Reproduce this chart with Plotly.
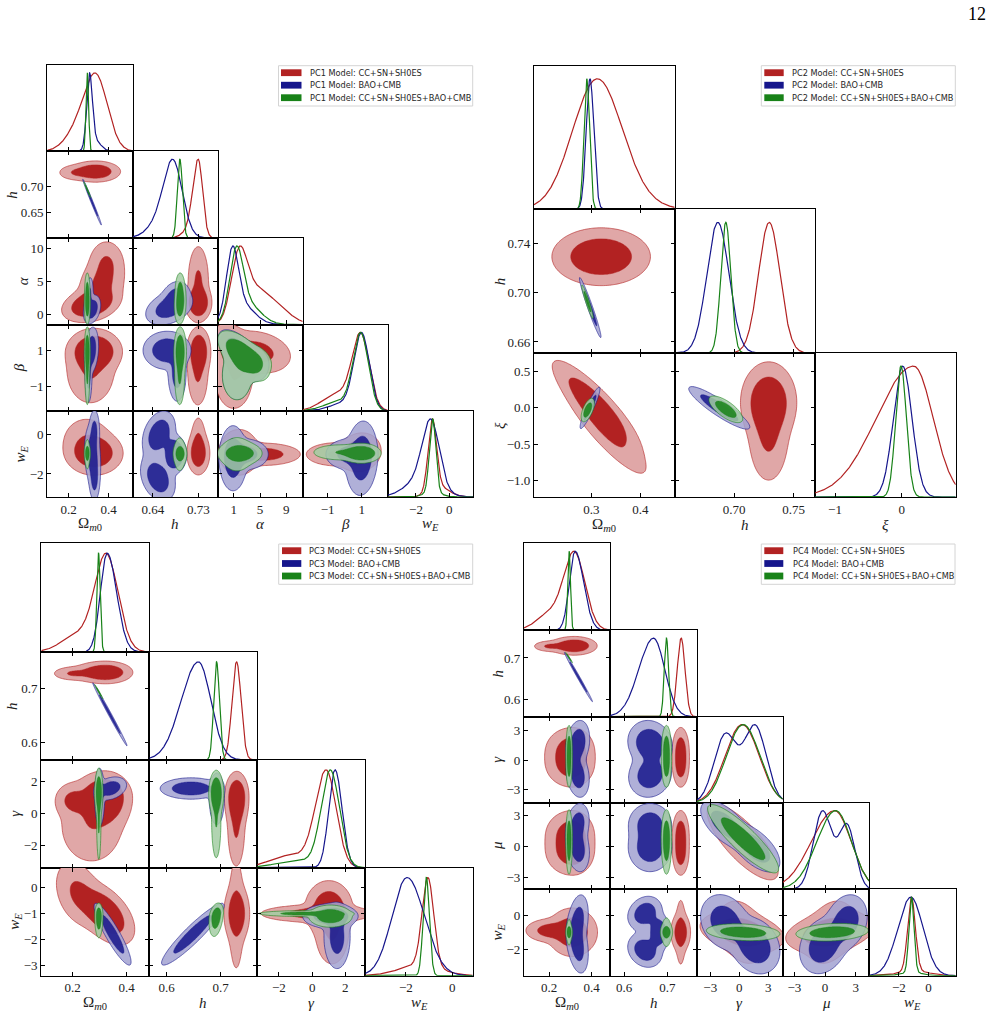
import numpy as np
import plotly.graph_objects as go

W, H = 995, 1017
SERIF = "Liberation Serif, DejaVu Serif, serif"
SANS = "DejaVu Sans, Verdana, sans-serif"

COLORS = {"cc": (178, 34, 34), "bao": (22, 22, 140), "all": (24, 130, 24)}
FILL_ALPHA = {"cc": 1.0, "bao": 0.85, "all": 0.85}
DATASETS = ["cc", "bao", "all"]
SERIES_NAMES = {"cc": "CC+SN+SH0ES", "bao": "BAO+CMB", "all": "CC+SN+SH0ES+BAO+CMB"}
LABELS = {"Om": "Ω<sub><i>m</i>0</sub>", "h": "<i>h</i>", "al": "<i>α</i>", "be": "<i>β</i>",
          "wE": "<i>w</i><sub><i>E</i></sub>", "xi": "<i>ξ</i>", "ga": "<i>γ</i>", "mu": "<i>μ</i>"}

# 1D components: (weight, mode, sigma) or (weight, mode, sigma_left, sigma_right)
# 2D components: (weight, mx, my, sx, sy, rho) or (weight, mx, my, sx_l, sx_r, sy_l, sy_h, rho)

# ======================= PC1 =======================
PC1_PARAMS = ["Om", "h", "al", "be", "wE"]
PC1_XRANGE = {"Om": [0.094, 0.521], "h": [0.600, 0.768], "al": [-1.47, 11.5], "be": [-2.47, 2.54], "wE": [-3.69, 1.44]}
PC1_YRANGE = {"h": [0.601, 0.768], "al": [-1.47, 11.5], "be": [-2.40, 2.45], "wE": [-3.17, 1.2]}
PC1_XTICKS = {"Om": [0.2, 0.4], "h": [0.64, 0.73], "al": [1, 5, 9], "be": [-1, 1], "wE": [-2, 0]}
PC1_XTICKTEXT = {"Om": ["0.2", "0.4"], "h": ["0.64", "0.73"], "al": ["1", "5", "9"], "be": ["−1", "1"], "wE": ["−2", "0"]}
PC1_YTICKS = {"h": [0.65, 0.70], "al": [0, 5, 10], "be": [-1, 1], "wE": [-2, 0]}
PC1_YTICKTEXT = {"h": ["0.65", "0.70"], "al": ["0", "5", "10"], "be": ["−1", "1"], "wE": ["−2", "0"]}

PC1_CC_1D = {
    "Om": [(0.8, 0.338, 0.058), (0.2, 0.24, 0.06)],
    "h": [(0.85, 0.730, 0.0105, 0.0085), (0.15, 0.715, 0.015)],
    "al": [(0.45, 1.8, 1.2), (0.35, 4.2, 2.0), (0.2, 7.5, 2.2)],
    "be": [(0.7, 0.95, 0.5), (0.3, -0.4, 0.9)],
    "wE": [(0.75, -1.02, 0.25), (0.25, -0.6, 0.6)],
}
PC1_BAO_1D = {
    "Om": [(0.75, 0.305, 0.014), (0.25, 0.33, 0.03)],
    "h": [(0.7, 0.681, 0.018), (0.3, 0.66, 0.025)],
    "al": [(0.6, 0.8, 0.9), (0.4, 2.2, 1.9)],
    "be": [(0.85, 1.0, 0.45), (0.15, -0.1, 0.8)],
    "wE": [(0.65, -1.1, 0.5), (0.35, -1.65, 0.95)],
}
PC1_ALL_1D = {
    "Om": [(1.0, 0.294, 0.0065)],
    "h": [(1.0, 0.6935, 0.005)],
    "al": [(0.6, 1.4, 1.0), (0.4, 3.0, 2.0)],
    "be": [(0.8, 0.95, 0.45), (0.2, -0.3, 0.9)],
    "wE": [(0.85, -1.0, 0.19), (0.15, -1.0, 0.5)],
}
PC1_CC_2D = {
    ("Om", "h"): [(0.85, 0.335, 0.729, 0.052, 0.0085, 0.0), (0.15, 0.23, 0.727, 0.04, 0.007, 0.0)],
    ("Om", "al"): [(0.5, 0.31, 1.5, 0.06, 1.1, 0.3), (0.35, 0.365, 4.5, 0.055, 2.0, 0.2), (0.15, 0.39, 8.0, 0.042, 1.6, 0.0)],
    ("h", "al"): [(0.6, 0.730, 1.8, 0.0105, 1.1, 0.0), (0.4, 0.730, 5.0, 0.0100, 2.6, 0.0)],
    ("Om", "be"): [(0.65, 0.33, 0.95, 0.055, 0.5, 0.0), (0.35, 0.31, -0.2, 0.06, 0.9, 0.0)],
    ("h", "be"): [(0.65, 0.731, 0.95, 0.0095, 0.55, 0.0), (0.35, 0.729, -0.3, 0.01, 0.9, 0.0)],
    ("al", "be"): [(0.45, 1.0, 1.0, 1.2, 0.6, -0.4), (0.35, 4.5, 0.9, 2.4, 0.55, -0.2), (0.2, 1.0, -0.6, 1.5, 0.9, 0.0)],
    ("Om", "wE"): [(0.75, 0.33, -0.95, 0.058, 0.45, 0.0), (0.25, 0.29, -0.3, 0.06, 0.6, 0.0)],
    ("h", "wE"): [(0.75, 0.730, -0.95, 0.0095, 0.45, 0.0), (0.25, 0.730, -0.3, 0.007, 0.6, 0.0)],
    ("al", "wE"): [(0.55, 1.8, -0.9, 1.3, 0.5, 0.0), (0.45, 5.5, -1.0, 2.5, 0.25, 0.0)],
    ("be", "wE"): [(0.7, 0.9, -0.9, 0.5, 0.4, 0.1), (0.3, -0.5, -1.0, 0.9, 0.3, 0.0)],
}
PC1_BAO_2D = {
    ("Om", "h"): [(1.0, 0.318, 0.67, 0.019, 0.018, -0.993)],
    ("Om", "al"): [(0.7, 0.318, 0.8, 0.018, 0.9, 0.3), (0.3, 0.302, 2.8, 0.01, 1.3, 0.3)],
    ("h", "al"): [(0.7, 0.672, 1.0, 0.02, 1.1, 0.35), (0.3, 0.685, 2.8, 0.012, 1.0, 0.2)],
    ("Om", "be"): [(0.7, 0.315, 1.0, 0.015, 0.55, 0.2), (0.3, 0.30, -0.4, 0.008, 0.7, 0.0)],
    ("h", "be"): [(0.7, 0.668, 1.0, 0.02, 0.45, 0.0), (0.3, 0.688, -0.3, 0.008, 0.7, 0.0)],
    ("al", "be"): [(0.7, 2.2, 0.75, 1.4, 0.55, -0.65), (0.1, 4.3, 0.5, 1.1, 0.4, -0.3), (0.2, 1.5, -0.4, 1.3, 0.8, 0.0)],
    ("Om", "wE"): [(0.6, 0.32, -1.1, 0.018, 0.7, -0.2), (0.2, 0.33, 0.2, 0.012, 0.5, 0.0), (0.2, 0.33, -2.3, 0.012, 0.5, 0.0)],
    ("h", "wE"): [(0.35, 0.652, 0.0, 0.015, 0.55, 0.3), (0.3, 0.683, -1.0, 0.01, 0.4, 0.0), (0.35, 0.65, -2.2, 0.016, 0.55, -0.3)],
    ("al", "wE"): [(0.65, 0.9, -1.2, 0.9, 0.7, 0.0), (0.35, 3.0, -1.0, 1.5, 0.35, 0.0)],
    ("be", "wE"): [(0.7, 1.0, -1.2, 0.4, 0.8, 0.1), (0.3, 0.2, -1.0, 0.6, 0.35, 0.0)],
}
PC1_ALL_2D = {
    ("Om", "h"): [(1.0, 0.294, 0.694, 0.007, 0.0062, -0.99)],
    ("Om", "al"): [(0.7, 0.294, 1.6, 0.0065, 1.3, 0.0), (0.3, 0.294, 3.8, 0.006, 1.2, 0.0)],
    ("h", "al"): [(0.7, 0.694, 1.6, 0.005, 1.3, 0.1), (0.3, 0.694, 3.8, 0.0045, 1.2, 0.0)],
    ("Om", "be"): [(0.7, 0.294, 0.95, 0.006, 0.55, 0.0), (0.3, 0.294, -0.5, 0.006, 0.8, 0.0)],
    ("h", "be"): [(0.7, 0.694, 0.95, 0.005, 0.55, 0.0), (0.3, 0.693, -0.5, 0.005, 0.8, 0.0)],
    ("al", "be"): [(0.7, 2.4, 0.7, 1.5, 0.55, -0.65), (0.1, 4.5, 0.5, 1.2, 0.4, -0.3), (0.2, 1.5, -0.4, 1.3, 0.8, 0.0)],
    ("Om", "wE"): [(0.7, 0.294, -0.95, 0.006, 0.2, 0.0), (0.3, 0.294, -1.0, 0.006, 0.4, 0.0)],
    ("h", "wE"): [(0.7, 0.694, -0.97, 0.0048, 0.2, 0.0), (0.3, 0.693, -1.0, 0.006, 0.45, 0.0)],
    ("al", "wE"): [(0.7, 2.0, -0.95, 1.3, 0.22, 0.0), (0.3, 1.5, -1.0, 1.2, 0.45, 0.0)],
    ("be", "wE"): [(0.7, 1.0, -0.95, 0.45, 0.2, 0.0), (0.3, -0.3, -0.9, 0.8, 0.2, 0.0)],
}

# ======================= PC2 =======================
PC2_PARAMS = ["Om", "h", "xi"]
PC2_XRANGE = {"Om": [0.183, 0.47], "h": [0.65, 0.768], "xi": [-1.3, 0.81]}
PC2_YRANGE = {"h": [0.651, 0.768], "xi": [-1.23, 0.757]}
PC2_XTICKS = {"Om": [0.3, 0.4], "h": [0.70, 0.75], "xi": [-1, 0]}
PC2_XTICKTEXT = {"Om": ["0.3", "0.4"], "h": ["0.70", "0.75"], "xi": ["−1", "0"]}
PC2_YTICKS = {"h": [0.66, 0.70, 0.74], "xi": [-1.0, -0.5, 0.0, 0.5]}
PC2_YTICKTEXT = {"h": ["0.66", "0.70", "0.74"], "xi": ["−1.0", "−0.5", "0.0", "0.5"]}

PC2_CC_1D = {"Om": [(0.8, 0.308, 0.049), (0.2, 0.34, 0.055)], "h": [(1.0, 0.7295, 0.009)], "xi": [(1.0, 0.18, 0.56, 0.29)]}
PC2_BAO_1D = {"Om": [(1.0, 0.2973, 0.0078)], "h": [(1.0, 0.6863, 0.0093)], "xi": [(1.0, 0.015, 0.14)]}
PC2_ALL_1D = {"Om": [(1.0, 0.2906, 0.0058)], "h": [(1.0, 0.693, 0.0042)], "xi": [(1.0, -0.01, 0.08)]}
PC2_CC_2D = {
    ("Om", "h"): [(1.0, 0.32, 0.7294, 0.041, 0.0096, 0.0)],
    ("Om", "xi"): [(0.65, 0.31, 0.03, 0.037, 0.26, -0.88), (0.35, 0.33, -0.3, 0.04, 0.3, -0.88)],
    ("h", "xi"): [(0.7, 0.729, 0.08, 0.0098, 0.23, 0.0), (0.3, 0.729, -0.4, 0.008, 0.3, 0.0)],
}
PC2_BAO_2D = {
    ("Om", "h"): [(1.0, 0.2977, 0.688, 0.009, 0.010, -0.97)],
    ("Om", "xi"): [(1.0, 0.2973, 0.0, 0.0083, 0.117, 0.92)],
    ("h", "xi"): [(1.0, 0.6875, 0.0, 0.0105, 0.12, -0.9)],
}
PC2_ALL_2D = {
    ("Om", "h"): [(1.0, 0.292, 0.6928, 0.0048, 0.0056, -0.95)],
    ("Om", "xi"): [(1.0, 0.2926, -0.03, 0.0055, 0.066, 0.6)],
    ("h", "xi"): [(1.0, 0.693, -0.02, 0.0058, 0.075, -0.72)],
}

# ======================= PC3 =======================
PC3_PARAMS = ["Om", "h", "ga", "wE"]
PC3_XRANGE = {"Om": [0.084, 0.484], "h": [0.568, 0.768], "ga": [-3.3, 3.2], "wE": [-3.75, 0.88]}
PC3_YRANGE = {"h": [0.567, 0.768], "ga": [-3.4, 3.33], "wE": [-3.41, 0.78]}
PC3_XTICKS = {"Om": [0.2, 0.4], "h": [0.6, 0.7], "ga": [-2, 0, 2], "wE": [-2, 0]}
PC3_XTICKTEXT = {"Om": ["0.2", "0.4"], "h": ["0.6", "0.7"], "ga": ["−2", "0", "2"], "wE": ["−2", "0"]}
PC3_YTICKS = {"h": [0.6, 0.7], "ga": [-2, 0, 2], "wE": [-3, -2, -1, 0]}
PC3_YTICKTEXT = {"h": ["0.6", "0.7"], "ga": ["−2", "0", "2"], "wE": ["−3", "−2", "−1", "0"]}

PC3_CC_1D = {"Om": [(0.8, 0.325, 0.042, 0.044), (0.2, 0.22, 0.06)], "h": [(1.0, 0.7296, 0.0084)],
             "ga": [(0.8, 0.85, 0.65, 0.6), (0.2, -1.3, 1.2)], "wE": [(0.7, -1.05, 0.25), (0.3, -1.4, 0.9)]}
PC3_BAO_1D = {"Om": [(1.0, 0.328, 0.025, 0.035)], "h": [(1.0, 0.659, 0.032, 0.023)],
              "ga": [(1.0, 1.38, 0.38, 0.42)], "wE": [(1.0, -1.95, 0.65, 0.75)]}
PC3_ALL_1D = {"Om": [(1.0, 0.296, 0.0063)], "h": [(1.0, 0.6926, 0.0053)],
              "ga": [(0.85, 1.1, 0.55, 0.55), (0.15, -0.8, 1.3)], "wE": [(1.0, -1.12, 0.135)]}
PC3_CC_2D = {
    ("Om", "h"): [(0.85, 0.322, 0.73, 0.05, 0.042, 0.0088, 0.0088, 0.0), (0.15, 0.2, 0.728, 0.035, 0.006, 0.0)],
    ("Om", "ga"): [(0.6, 0.32, 1.0, 0.045, 0.04, 0.8, 0.65, 0.0), (0.3, 0.27, -0.8, 0.06, 1.2, 0.0), (0.1, 0.2, 0.8, 0.03, 0.5, 0.0)],
    ("h", "ga"): [(0.7, 0.73, 1.0, 0.0092, 0.0092, 0.8, 0.65, 0.0), (0.3, 0.729, -1.0, 0.008, 1.2, 0.0)],
    ("Om", "wE"): [(0.7, 0.32, -1.0, 0.045, 0.5, -0.5), (0.3, 0.22, -0.2, 0.04, 0.6, -0.3)],
    ("h", "wE"): [(0.7, 0.73, -1.0, 0.0093, 0.45, 0.0), (0.3, 0.729, -1.0, 0.007, 1.1, 0.0)],
    ("ga", "wE"): [(0.5, 1.0, -0.8, 0.6, 0.45, 0.0), (0.3, 0.3, -1.0, 1.5, 0.15, 0.0), (0.2, 1.2, -1.8, 0.5, 0.6, 0.0)],
}
PC3_BAO_2D = {
    ("Om", "h"): [(1.0, 0.338, 0.652, 0.026, 0.024, -0.995)],
    ("Om", "ga"): [(0.6, 0.34, 1.55, 0.025, 0.3, 0.3), (0.4, 0.30, 1.0, 0.008, 0.8, 0.0)],
    ("h", "ga"): [(0.65, 0.645, 1.55, 0.024, 0.28, 0.0), (0.35, 0.693, 0.9, 0.006, 0.7, 0.0)],
    ("Om", "wE"): [(1.0, 0.348, -1.8, 0.028, 0.49, -0.9)],
    ("h", "wE"): [(1.0, 0.6487, -1.8, 0.0237, 0.49, 0.93)],
    ("ga", "wE"): [(0.5, 1.5, -1.9, 0.35, 0.55, 0.0), (0.5, 1.1, -1.1, 0.7, 0.2, 0.0)],
}
PC3_ALL_2D = {
    ("Om", "h"): [(1.0, 0.297, 0.694, 0.0063, 0.0055, -0.99)],
    ("Om", "ga"): [(0.7, 0.297, 1.3, 0.0063, 0.6, 0.0), (0.3, 0.297, -0.5, 0.004, 1.2, 0.0)],
    ("h", "ga"): [(0.7, 0.692, 1.25, 0.0055, 0.55, 0.0), (0.3, 0.692, -0.5, 0.0045, 1.2, 0.0)],
    ("Om", "wE"): [(1.0, 0.297, -1.08, 0.0063, 0.0063, 0.35, 0.2, 0.0)],
    ("h", "wE"): [(1.0, 0.692, -1.08, 0.0055, 0.0055, 0.33, 0.2, 0.3)],
    ("ga", "wE"): [(0.7, 1.1, -1.1, 0.55, 0.18, 0.0), (0.3, -0.5, -1.0, 1.2, 0.05, 0.0)],
}

# ======================= PC4 =======================
PC4_PARAMS = ["Om", "h", "ga", "mu", "wE"]
PC4_XRANGE = {"Om": [0.082, 0.488], "h": [0.568, 0.768], "ga": [-4.4, 4.49], "mu": [-4.15, 4.34], "wE": [-4.0, 1.84]}
PC4_YRANGE = {"h": [0.56, 0.766], "ga": [-4.3, 4.42], "mu": [-4.19, 4.19], "wE": [-3.53, 1.5]}
PC4_XTICKS = {"Om": [0.2, 0.4], "h": [0.6, 0.7], "ga": [-3, 0, 3], "mu": [-3, 0, 3], "wE": [-2, 0]}
PC4_XTICKTEXT = {"Om": ["0.2", "0.4"], "h": ["0.6", "0.7"], "ga": ["−3", "0", "3"], "mu": ["−3", "0", "3"], "wE": ["−2", "0"]}
PC4_YTICKS = {"h": [0.6, 0.7], "ga": [-3, 0, 3], "mu": [-3, 0, 3], "wE": [-2, 0]}
PC4_YTICKTEXT = {"h": ["0.6", "0.7"], "ga": ["−3", "0", "3"], "mu": ["−3", "0", "3"], "wE": ["−2", "0"]}

PC4_CC_1D = {"Om": [(0.8, 0.319, 0.05), (0.2, 0.2, 0.06)], "h": [(1.0, 0.732, 0.009)],
             "ga": [(0.5, -0.5, 1.5), (0.5, 1.1, 1.5)], "mu": [(1.0, 0.95, 2.3, 1.6)],
             "wE": [(0.8, -1.15, 0.26), (0.2, -1.0, 1.0)]}
PC4_BAO_1D = {"Om": [(1.0, 0.3226, 0.027, 0.04)], "h": [(1.0, 0.668, 0.034, 0.026)],
              "ga": [(0.47, -1.45, 1.15), (0.53, 1.65, 1.15)], "mu": [(0.58, -0.25, 0.9), (0.42, 2.15, 0.8)],
              "wE": [(1.0, -1.19, 0.88, 0.82)]}
PC4_ALL_1D = {"Om": [(1.0, 0.2943, 0.0065)], "h": [(1.0, 0.698, 0.005)],
              "ga": [(0.5, -0.4, 1.45), (0.5, 1.2, 1.45)], "mu": [(1.0, 1.05, 1.85, 1.55)],
              "wE": [(0.85, -1.15, 0.17), (0.15, -1.1, 0.7)]}
PC4_CC_2D = {
    ("Om", "h"): [(0.85, 0.318, 0.729, 0.048, 0.045, 0.0093, 0.0093, 0.0), (0.15, 0.2, 0.728, 0.035, 0.006, 0.0)],
    ("Om", "ga"): [(0.5, 0.31, -0.5, 0.055, 0.045, 1.0, 1.0, 0.0), (0.5, 0.31, 1.1, 0.055, 0.045, 1.0, 1.0, 0.0)],
    ("h", "ga"): [(0.5, 0.731, -0.5, 0.0085, 1.0, 0.0), (0.5, 0.731, 1.1, 0.0085, 1.0, 0.0)],
    ("Om", "mu"): [(0.5, 0.31, -0.6, 0.055, 0.045, 1.0, 1.0, 0.0), (0.5, 0.31, 1.2, 0.055, 0.045, 1.0, 1.0, 0.0)],
    ("h", "mu"): [(0.5, 0.731, -0.6, 0.0085, 1.0, 0.0), (0.5, 0.731, 1.2, 0.0085, 1.0, 0.0)],
    ("ga", "mu"): [(1.0, 0.35, 0.4, 1.5, 1.5, -0.78)],
    ("Om", "wE"): [(0.75, 0.31, -1.0, 0.05, 0.6, 0.0), (0.25, 0.2, -0.9, 0.05, 0.3, 0.0)],
    ("h", "wE"): [(0.75, 0.731, -1.0, 0.009, 0.45, 0.0), (0.25, 0.731, -1.0, 0.006, 1.0, 0.0)],
    ("ga", "wE"): [(0.75, 0.3, -1.0, 1.7, 0.45, -0.3), (0.25, 0.3, -1.0, 1.3, 1.0, -0.3)],
    ("mu", "wE"): [(0.75, 0.5, -1.0, 1.7, 0.45, 0.3), (0.25, 0.5, -1.0, 1.3, 1.0, 0.3)],
}
PC4_BAO_2D = {
    ("Om", "h"): [(1.0, 0.338, 0.6545, 0.027, 0.024, -0.995)],
    ("Om", "ga"): [(0.55, 0.335, 1.7, 0.024, 1.0, 0.2), (0.45, 0.335, -1.5, 0.024, 1.0, -0.2)],
    ("h", "ga"): [(0.55, 0.66, 1.7, 0.022, 1.0, -0.1), (0.45, 0.66, -1.5, 0.022, 1.0, 0.1)],
    ("Om", "mu"): [(0.45, 0.335, 2.1, 0.024, 0.9, 0.2), (0.55, 0.335, -0.2, 0.024, 1.0, -0.2)],
    ("h", "mu"): [(0.45, 0.66, 2.1, 0.022, 0.9, 0.0), (0.55, 0.66, -0.2, 0.022, 1.0, 0.0)],
    ("ga", "mu"): [(0.47, -1.5, 2.1, 1.1, 1.0, -0.6), (0.53, 1.65, -0.2, 1.1, 1.0, -0.6)],
    ("Om", "wE"): [(0.5, 0.335, -0.4, 0.022, 0.7, 0.3), (0.5, 0.335, -1.8, 0.022, 0.7, -0.3)],
    ("h", "wE"): [(0.35, 0.648, 0.1, 0.018, 0.45, 0.2), (0.3, 0.68, -1.0, 0.012, 0.45, 0.0), (0.35, 0.648, -2.05, 0.018, 0.45, -0.2)],
    ("ga", "wE"): [(0.47, -1.5, -0.4, 1.1, 0.7, -0.2), (0.53, 1.65, -1.8, 1.1, 0.7, -0.2)],
    ("mu", "wE"): [(0.45, 2.1, -0.4, 0.9, 0.7, 0.2), (0.55, -0.2, -1.8, 1.0, 0.7, 0.2)],
}
PC4_ALL_2D = {
    ("Om", "h"): [(1.0, 0.294, 0.701, 0.0065, 0.005, -0.99)],
    ("Om", "ga"): [(0.5, 0.294, -0.4, 0.0065, 1.05, 0.0), (0.5, 0.294, 1.2, 0.0065, 1.05, 0.0)],
    ("h", "ga"): [(0.5, 0.698, -0.4, 0.005, 1.05, 0.0), (0.5, 0.698, 1.2, 0.005, 1.05, 0.0)],
    ("Om", "mu"): [(1.0, 0.294, 0.7, 0.0065, 0.0065, 1.4, 1.15, 0.0)],
    ("h", "mu"): [(1.0, 0.698, 0.7, 0.005, 0.005, 1.4, 1.15, 0.0)],
    ("ga", "mu"): [(1.0, 0.4, 0.7, 1.5, 1.35, -0.88)],
    ("Om", "wE"): [(0.7, 0.294, -1.0, 0.006, 0.18, 0.0), (0.3, 0.294, -1.0, 0.006, 0.4, 0.0)],
    ("h", "wE"): [(0.7, 0.698, -1.0, 0.005, 0.18, 0.0), (0.3, 0.698, -1.0, 0.006, 0.45, 0.0)],
    ("ga", "wE"): [(1.0, 0.4, -1.0, 1.55, 0.2, -0.2)],
    ("mu", "wE"): [(1.0, 0.7, -1.0, 1.45, 0.21, 0.2)],
}

# ======================= layout of the four triangle plots (pixels) =======================
PANELS = [
    dict(name="PC1", params=PC1_PARAMS, xr=PC1_XRANGE, yr=PC1_YRANGE,
         xt=PC1_XTICKS, xtt=PC1_XTICKTEXT, yt=PC1_YTICKS, ytt=PC1_YTICKTEXT,
         d1={"cc": PC1_CC_1D, "bao": PC1_BAO_1D, "all": PC1_ALL_1D},
         d2={"cc": PC1_CC_2D, "bao": PC1_BAO_2D, "all": PC1_ALL_2D},
         xe=[47.3, 132.7, 217.5, 302.7, 387.8, 473.3], ye=[65, 151.3, 238, 324.5, 411, 497],
         ytx={"h": 12, "al": 23, "be": 18.5, "wE": 20.5}, xty=524,
         leg=dict(x0=278.5, x1=472.7, y0=65.7, y1=106, p0=281, p1=301.5, tx=307.7, rows=[72.7, 85.2, 97.7])),
    dict(name="PC2", params=PC2_PARAMS, xr=PC2_XRANGE, yr=PC2_YRANGE,
         xt=PC2_XTICKS, xtt=PC2_XTICKTEXT, yt=PC2_YTICKS, ytt=PC2_YTICKTEXT,
         d1={"cc": PC2_CC_1D, "bao": PC2_BAO_1D, "all": PC2_ALL_1D},
         d2={"cc": PC2_CC_2D, "bao": PC2_BAO_2D, "all": PC2_ALL_2D},
         xe=[534, 674.7, 815, 955.7], ye=[65.7, 209.3, 353, 497],
         ytx={"h": 500, "xi": 500}, xty=525,
         leg=dict(x0=761.3, x1=955.3, y0=65.7, y1=106, p0=764.3, p1=783.7, tx=790.3, rows=[72.7, 85.2, 97.7])),
    dict(name="PC3", params=PC3_PARAMS, xr=PC3_XRANGE, yr=PC3_YRANGE,
         xt=PC3_XTICKS, xtt=PC3_XTICKTEXT, yt=PC3_YTICKS, ytt=PC3_YTICKTEXT,
         d1={"cc": PC3_CC_1D, "bao": PC3_BAO_1D, "all": PC3_ALL_1D},
         d2={"cc": PC3_CC_2D, "bao": PC3_BAO_2D, "all": PC3_ALL_2D},
         xe=[41.3, 149.3, 257.3, 365.3, 472.7], ye=[543.3, 652, 760, 867.7, 975.7],
         ytx={"h": 12, "ga": 15, "wE": 15}, xty=1003,
         leg=dict(x0=278.7, x1=472.7, y0=544, y1=584.3, p0=282, p1=301.3, tx=307.3, rows=[550.7, 563.5, 576])),
    dict(name="PC4", params=PC4_PARAMS, xr=PC4_XRANGE, yr=PC4_YRANGE,
         xt=PC4_XTICKS, xtt=PC4_XTICKTEXT, yt=PC4_YTICKS, ytt=PC4_YTICKTEXT,
         d1={"cc": PC4_CC_1D, "bao": PC4_BAO_1D, "all": PC4_ALL_1D},
         d2={"cc": PC4_CC_2D, "bao": PC4_BAO_2D, "all": PC4_ALL_2D},
         xe=[524, 610.3, 696.7, 782.7, 869.3, 955.7], ye=[543.3, 630.3, 716.7, 802.7, 889.3, 975.7],
         ytx={"h": 497, "ga": 497, "mu": 497, "wE": 497}, xty=1003,
         leg=dict(x0=761.3, x1=955, y0=544, y1=584.3, p0=764.3, p1=783.3, tx=791, rows=[550.7, 563.5, 576])),
]


# ======================= helpers =======================
def c2(c):
    if len(c) == 6:
        w, mx, my, sx, sy, r = c
        return w, mx, my, sx, sx, sy, sy, r
    return tuple(c)


def c1(c):
    if len(c) == 3:
        w, m, s = c
        return w, m, s, s
    return tuple(c)


def dens2(comps, X, Y):
    Z = np.zeros_like(X, dtype=float)
    for c in comps:
        w, mx, my, sxl, sxr, syl, syh, r = c2(c)
        u = (X - mx) / np.where(X < mx, sxl, sxr)
        v = (Y - my) / np.where(Y < my, syl, syh)
        q = (u * u - 2 * r * u * v + v * v) / (1 - r * r)
        norm = 2 * np.pi * 0.25 * (sxl + sxr) * (syl + syh) * np.sqrt(1 - r * r)
        Z += w / norm * np.exp(-0.5 * q)
    return Z


def dens1(comps, x):
    y = np.zeros_like(x, dtype=float)
    for c in comps:
        w, m, sl, sr = c1(c)
        s = np.where(x < m, sl, sr)
        y += w / (0.5 * (sl + sr)) * np.exp(-0.5 * ((x - m) / s) ** 2)
    return y


def extent(comps):
    a = [c2(c) for c in comps]
    return (min(k[1] - 4.5 * k[3] for k in a), max(k[1] + 4.5 * k[4] for k in a),
            min(k[2] - 4.5 * k[5] for k in a), max(k[2] + 4.5 * k[6] for k in a))


def grid_n(comps):
    rmax = max(abs(c2(c)[7]) for c in comps)
    return int(np.clip(0.25 * 72 / np.sqrt(1 - rmax), 72, 240))


def rgba(c, a):
    return "rgba(%d,%d,%d,%.3f)" % (c[0], c[1], c[2], a)


def pale(c):
    return tuple(int(round(0.4 * v + 0.6 * 255)) for v in c)


fig = go.Figure()
axes = {}
annotations = []
shapes = []
k = 0

for P in PANELS:
    params = P["params"]
    n = len(params)
    xe, ye = P["xe"], P["ye"]
    for i in range(n):
        for j in range(i + 1):
            k += 1
            sfx = "" if k == 1 else str(k)
            xref, yref = "x" + sfx, "y" + sfx
            px, py = params[j], params[i]
            xr = P["xr"][px]
            diag = i == j
            axes["xaxis" + sfx] = dict(
                domain=[xe[j] / W, xe[j + 1] / W], range=xr, anchor=yref,
                tickmode="array", tickvals=P["xt"][px], ticktext=P["xtt"][px],
                showticklabels=(i == n - 1), ticks="inside", ticklen=4, tickwidth=1, tickcolor="black",
                showline=True, linecolor="black", linewidth=1.3,
                mirror=True if diag else "ticks", showgrid=False, zeroline=False,
                tickfont=dict(family=SERIF, size=13, color="#222"), automargin=False, fixedrange=True)
            if diag:
                yax = dict(range=[0, 1.1], showticklabels=False, ticks="")
            else:
                yax = dict(range=P["yr"][py], tickmode="array", tickvals=P["yt"][py], ticktext=P["ytt"][py],
                           showticklabels=(j == 0), ticks="inside", ticklen=4, tickwidth=1, tickcolor="black")
            yax.update(domain=[1 - ye[i + 1] / H, 1 - ye[i] / H], anchor=xref, showline=True,
                       linecolor="black", linewidth=1.3, mirror=True if diag else "ticks",
                       showgrid=False, zeroline=False, automargin=False, fixedrange=True,
                       tickfont=dict(family=SERIF, size=13, color="#222"))
            axes["yaxis" + sfx] = yax

            if diag:
                xs = np.linspace(xr[0], xr[1], 500)
                for ds in DATASETS:
                    ys = dens1(P["d1"][ds][px], xs)
                    ys = ys / ys.max()
                    fig.add_trace(go.Scatter(x=xs, y=ys, mode="lines", xaxis=xref, yaxis=yref,
                                             line=dict(color=rgba(COLORS[ds], 1), width=1.2),
                                             hoverinfo="skip", showlegend=False))
            else:
                yr = P["yr"][py]
                for ds in DATASETS:
                    comps = P["d2"][ds][(px, py)]
                    x0, x1, y0, y1 = extent(comps)
                    nn = grid_n(comps)
                    nt = max(260, 2 * nn)
                    GX, GY = np.meshgrid(np.linspace(x0, x1, nt), np.linspace(y0, y1, nt))
                    Zf = dens2(comps, GX, GY)
                    zmax = Zf.max()
                    zs = np.sort(Zf.ravel())[::-1]
                    cs = np.cumsum(zs)
                    cs /= cs[-1]
                    lev95 = zs[np.searchsorted(cs, 0.95)] / zmax * 60000.0
                    lev68 = zs[np.searchsorted(cs, 0.68)] / zmax * 60000.0
                    padx = 0.03 * (xr[1] - xr[0])
                    pady = 0.03 * (yr[1] - yr[0])
                    gx = np.linspace(max(x0, xr[0] - padx), min(x1, xr[1] + padx), nn)
                    gy = np.linspace(max(y0, yr[0] - pady), min(y1, yr[1] + pady), nn)
                    X, Y = np.meshgrid(gx, gy)
                    Z = np.clip(np.round(dens2(comps, X, Y) / zmax * 60000.0), 0, 65535).astype(np.uint16)
                    col = COLORS[ds]
                    a = FILL_ALPHA[ds]
                    fig.add_trace(go.Contour(
                        x=gx, y=gy, z=Z, xaxis=xref, yaxis=yref,
                        contours=dict(type="constraint", operation="<", value=float(lev95)),
                        fillcolor=rgba(pale(col), a), line=dict(color=rgba(col, 0.75), width=0.8, smoothing=1),
                        showscale=False, hoverinfo="skip", showlegend=False))
                    fig.add_trace(go.Contour(
                        x=gx, y=gy, z=Z, xaxis=xref, yaxis=yref,
                        contours=dict(type="constraint", operation="<", value=float(lev68)),
                        fillcolor=rgba(col, a), line=dict(color=rgba(col, a), width=0.5, smoothing=1),
                        showscale=False, hoverinfo="skip", showlegend=False))

    # axis titles
    for j, p in enumerate(params):
        annotations.append(dict(x=0.5 * (xe[j] + xe[j + 1]) / W, y=1 - P["xty"] / H, xref="paper", yref="paper",
                                text=LABELS[p], showarrow=False, xanchor="center", yanchor="middle",
                                font=dict(family=SERIF, size=15, color="#222")))
    for i, p in enumerate(params[1:], start=1):
        annotations.append(dict(x=P["ytx"][p] / W, y=1 - 0.5 * (ye[i] + ye[i + 1]) / H, xref="paper", yref="paper",
                                text=LABELS[p], showarrow=False, xanchor="center", yanchor="middle", textangle=-90,
                                font=dict(family=SERIF, size=15, color="#222")))
    # legend box
    L = P["leg"]
    shapes.append(dict(type="rect", xref="paper", yref="paper", x0=L["x0"] / W, x1=L["x1"] / W,
                       y0=1 - L["y1"] / H, y1=1 - L["y0"] / H, line=dict(color="#d4d4d4", width=1),
                       fillcolor="white", layer="above"))
    for ds, ry in zip(DATASETS, L["rows"]):
        shapes.append(dict(type="rect", xref="paper", yref="paper", x0=L["p0"] / W, x1=L["p1"] / W,
                           y0=1 - (ry + 3.4) / H, y1=1 - (ry - 3.4) / H, line=dict(width=0),
                           fillcolor=rgba(COLORS[ds], 1), layer="above"))
        annotations.append(dict(x=L["tx"] / W, y=1 - ry / H, xref="paper", yref="paper",
                                text="%s Model: %s" % (P["name"], SERIES_NAMES[ds]), showarrow=False,
                                xanchor="left", yanchor="middle", font=dict(family=SANS, size=8.2, color="#262626")))

annotations.append(dict(x=977 / W, y=1 - 13.5 / H, xref="paper", yref="paper", text="12", showarrow=False,
                        xanchor="center", yanchor="middle", font=dict(family=SERIF, size=18, color="black")))

fig.update_layout(width=W, height=H, margin=dict(l=0, r=0, t=0, b=0), autosize=False,
                  paper_bgcolor="white", plot_bgcolor="white", showlegend=False, hovermode=False,
                  annotations=annotations, shapes=shapes, **axes)
fig.write_html("out.html", config={"displayModeBar": False})
